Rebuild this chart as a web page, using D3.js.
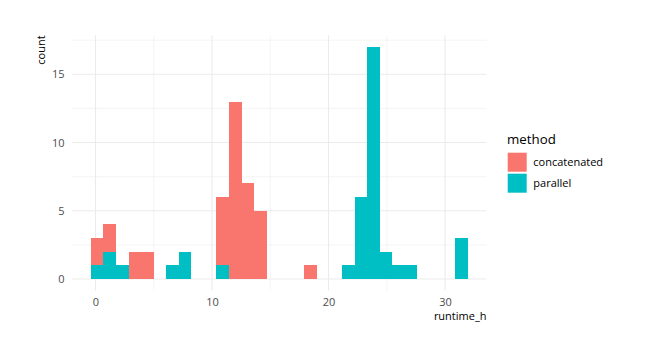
<!DOCTYPE html>
<html>
<head>
<meta charset="utf-8">
<script src="https://cdn.jsdelivr.net/npm/d3@7/dist/d3.min.js"></script>
<style>
    body { margin: 0; background: #fff; }
    text { font-family: "Open Sans", sans-serif; }
    .axis text { fill: #4D4D4D; font-size: 11px; }
    .axis path, .axis line { display: none; }
    .grid-major { stroke: #EBEBEB; stroke-width: 1.1; }
    .grid-minor { stroke: #EBEBEB; stroke-width: 0.55; }
</style>
</head>
<body>
<svg id="chart"></svg>
<script>
// histogram bins (30 bins)
var binStart = -0.40;
var binWidth = 1.078;
var methods = ["concatenated", "parallel"];
var colors = ["#F8766D", "#00BFC4"];
var concatenated = [2, 2, 0, 2, 2, 0, 0, 0, 0, 0, 5, 13, 7, 5, 0, 0, 0, 1, 0, 0, 0, 0, 0, 0, 0, 0, 0, 0, 0, 0];
var parallel =     [1, 2, 1, 0, 0, 0, 1, 2, 0, 0, 1, 0, 0, 0, 0, 0, 0, 0, 0, 0, 1, 6, 17, 2, 1, 1, 0, 0, 0, 3];
var xTicks = [0, 10, 20, 30];
var yTicks = [0, 5, 10, 15];
var xMinor = [5, 15, 25];
var yMinor = [2.5, 7.5, 12.5, 17.5];

var width = 647, height = 359;
var margin = { top: 35.4, left: 72, bottom: 359 - 290.6, right: 647 - 486.5 };
var w = width - margin.left - margin.right,
    h = height - margin.top - margin.bottom;

var svg = d3.select("#chart")
    .attr("width", width)
    .attr("height", height);

var g = svg.append("g")
    .attr("transform", "translate(" + margin.left + "," + margin.top + ")");

var rows = d3.range(concatenated.length).map(function (i) {
    return { x0: binStart + i * binWidth, x1: binStart + (i + 1) * binWidth,
             parallel: parallel[i], concatenated: concatenated[i] };
});

var xmin = rows[0].x0, xmax = rows[rows.length - 1].x1;
var xpad = (xmax - xmin) * 0.05;
var x = d3.scaleLinear().domain([xmin - xpad, xmax + xpad]).range([0, w]);

var ymax = d3.max(rows, function (d) { return d.parallel + d.concatenated; });
var y = d3.scaleLinear().domain([-ymax * 0.05, ymax * 1.05]).range([h, 0]);

// grid
g.selectAll(".gxm").data(xMinor).enter().append("line")
    .attr("class", "grid-minor")
    .attr("x1", function (d) { return x(d); }).attr("x2", function (d) { return x(d); })
    .attr("y1", 0).attr("y2", h);
g.selectAll(".gym").data(yMinor).enter().append("line")
    .attr("class", "grid-minor")
    .attr("x1", 0).attr("x2", w)
    .attr("y1", function (d) { return y(d); }).attr("y2", function (d) { return y(d); });
g.selectAll(".gx").data(xTicks).enter().append("line")
    .attr("class", "grid-major")
    .attr("x1", function (d) { return x(d); }).attr("x2", function (d) { return x(d); })
    .attr("y1", 0).attr("y2", h);
g.selectAll(".gy").data(yTicks).enter().append("line")
    .attr("class", "grid-major")
    .attr("x1", 0).attr("x2", w)
    .attr("y1", function (d) { return y(d); }).attr("y2", function (d) { return y(d); });

// stacked bars: parallel at bottom, concatenated on top
var stack = d3.stack().keys(["parallel", "concatenated"]);
var series = stack(rows);
var colorOf = { concatenated: colors[0], parallel: colors[1] };

g.selectAll(".series")
    .data(series)
    .enter().append("g")
    .attr("fill", function (s) { return colorOf[s.key]; })
    .selectAll("rect")
    .data(function (s) { return s.filter(function (d) { return d[1] > d[0]; }); })
    .enter().append("rect")
    .attr("x", function (d) { return x(d.data.x0); })
    .attr("width", function (d) { return x(d.data.x1) - x(d.data.x0); })
    .attr("y", function (d) { return y(d[1]); })
    .attr("height", function (d) { return y(d[0]) - y(d[1]); })
    .attr("shape-rendering", "crispEdges");

// axes
g.append("g")
    .attr("class", "axis")
    .attr("transform", "translate(0," + h + ")")
    .call(d3.axisBottom(x).tickValues(xTicks).tickSize(0).tickPadding(7.3));

g.append("g")
    .attr("class", "axis")
    .call(d3.axisLeft(y).tickValues(yTicks).tickSize(0).tickPadding(7.5));

// axis titles
g.append("text")
    .attr("x", w)
    .attr("y", h + 29.4)
    .attr("text-anchor", "end")
    .style("font-size", "11px")
    .attr("fill", "#000")
    .text("runtime_h");

g.append("text")
    .attr("transform", "translate(" + (-27) + ",0) rotate(-90)")
    .attr("text-anchor", "end")
    .style("font-size", "11px")
    .attr("fill", "#000")
    .text("count");

// legend
var legend = svg.append("g").attr("transform", "translate(507,144)");
legend.append("text")
    .attr("x", 0).attr("y", 0)
    .style("font-size", "13.3px")
    .attr("fill", "#000")
    .text("method");

var items = legend.selectAll(".item")
    .data(methods)
    .enter().append("g")
    .attr("transform", function (d, i) { return "translate(0," + (8.7 + i * 21) + ")"; });
items.append("rect")
    .attr("x", 0.7).attr("y", 0)
    .attr("width", 19).attr("height", 19)
    .attr("fill", function (d, i) { return colors[i]; });
items.append("text")
    .attr("x", 26.3).attr("y", 9.5)
    .attr("dy", "0.35em")
    .style("font-size", "11px")
    .attr("fill", "#000")
    .text(function (d) { return d; });
</script>
</body>
</html>
